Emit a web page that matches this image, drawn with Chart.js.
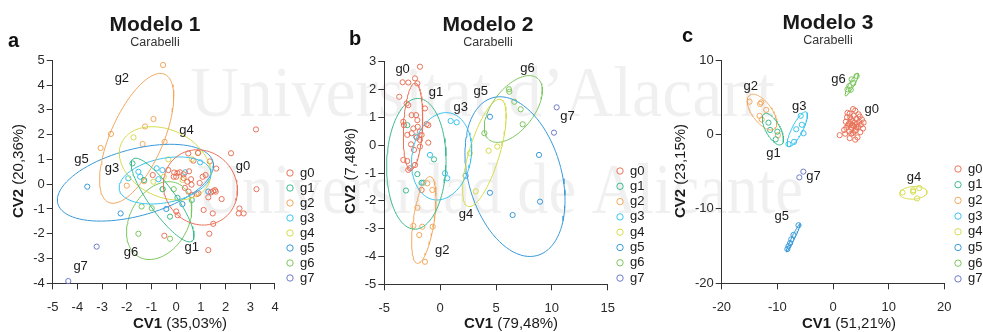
<!DOCTYPE html>
<html>
<head>
<meta charset="utf-8">
<script src="https://cdn.jsdelivr.net/npm/chart.js@4.4.1/dist/chart.umd.min.js"></script>
<style>
  body { margin: 0; background: #fff; }
  #wrap { position: relative; width: 983px; height: 332px; }
  canvas { position: absolute; left: 0; top: 0; }
</style>
</head>
<body>
<div id="wrap">
  <canvas id="c1" width="983" height="332"></canvas>
  <canvas id="c2" width="983" height="332"></canvas>
  <canvas id="c3" width="983" height="332"></canvas>
</div>
<script>
const groups = ['g0', 'g1', 'g2', 'g3', 'g4', 'g5', 'g6', 'g7'];
const colors = ['#E8735A', '#3DBB8C', '#F2A85E', '#3CC3EE', '#D6DB4C', '#3A9AD9', '#7CC65E', '#6F7BC9'];

// Modelo 1 (CV1 35,03% / CV2 20,36%)
const m1_g0 = [[3.23,2.21],[2.22,1.25],[3.25,-0.2],[2.56,-0.98],[2.53,-1.18],[2.73,-1.18],[1.48,-1.18],[1.34,-2.0],
  [1.3,-2.66],[1.84,-0.6],[1.62,0.63],[1.36,0.92],[0.88,1.26],[0.49,1.24],[1.5,-1.6],[1.07,0.3],[1.19,0.37],
  [1.57,-0.24],[1.5,-0.28],[1.41,-0.33],[1.3,-0.53],[0.9,-0.37],[0.83,-0.4],[0.63,-0.44],[0.3,0.4],[0.3,0.25],
  [0.45,0.1],[0.52,0.52],[0.6,0.2],[0.62,-0.02],[0.15,0.48],[-0.1,0.3],[0.0,0.3],[0.05,0.45],[-0.08,0.47],
  [1.11,-1.04],[-0.32,0.57],[-0.95,0.37],[0.0,-1.1],[0.06,-1.25],[-0.48,-2.08],[0.5,-0.3],[0.7,0.95],[0.95,0.05],
  [1.6,-0.3],[0.35,-0.15]];
const m1_g1 = [[-1.77,0.84],[-1.3,0.17],[-0.25,-1.31],[0.63,-0.64],[-0.55,-0.2],[0.05,-0.55]];
const m1_g2 = [[-0.53,4.81],[-0.92,2.63],[-1.26,2.33],[-2.64,2.03],[-3.06,1.46],[-1.36,1.62],[-0.47,1.71],[-2.0,-0.06],[-1.3,0.12]];
const m1_g3 = [[-1.53,0.5],[-1.46,0.3],[-1.94,0.24],[-0.79,0.64],[-0.56,0.57],[-0.72,0.2],[0.36,0.48],[0.97,0.88]];
const m1_g4 = [[-1.73,1.89],[0.63,1.0],[0.9,1.27],[0.26,0.17],[-0.32,1.0],[-0.92,0.1],[-0.5,0.3]];
const m1_g5 = [[-3.6,-0.1],[-2.25,-1.18],[-0.4,-1.0],[1.3,-0.3],[0.25,-0.8]];
const m1_g6 = [[-1.4,-0.9],[-0.99,-0.97],[-1.53,-2.0],[-0.25,-2.2],[-0.55,-0.2],[-0.1,-0.2]];
const m1_g7 = [[-3.22,-2.52],[-4.37,-3.91]];
// ellipse: centre x, centre y, half width, half height, y-offset of rightmost point (fraction of half height)
const m1_ellipses = [[0.98,-0.13,1.5,1.52,-0.08],[-0.55,-0.64,1.27,1.69,-0.86],[-1.6,1.85,1.5,2.62,0.64],
  [-0.45,0.15,1.86,0.95,0.3],[-0.45,0.84,1.85,1.48,-0.28],[-1.65,0.06,3.16,1.55,0.45],[-0.69,-1.47,1.32,1.57,0.3],null];
const m1_labels = [[2.7,0.71],[0.63,-2.55],[-2.2,4.27],[-2.6,0.64],[0.42,2.19],[-3.83,1.0],[-1.83,-2.77],[-3.87,-3.3]];

// Modelo 2 (CV1 79,48% / CV2 7,48%)
const m2_g0 = [[-1.81,2.82],[-2.25,2.4],[-3.36,2.26],[-2.85,2.25],[-2.04,2.22],[-3.66,1.74],[-3.0,1.5],[-2.85,1.44],
  [-1.36,1.32],[-2.55,1.08],[-2.16,1.08],[-2.04,0.9],[-3.3,0.84],[-3.24,0.72],[-1.21,0.76],[-1.06,0.72],[-2.01,0.66],
  [-2.4,0.6],[-1.81,0.49],[-2.55,0.43],[-2.94,0.37],[-1.66,0.37],[-2.1,0.27],[-1.81,0.19],[-1.06,0.09],[-2.61,0.03],
  [-1.81,-0.05],[-2.34,-0.17],[-3.3,-0.53],[-2.94,-0.57],[-2.25,-0.71],[-2.7,-0.83],[-2.85,-0.89],[-1.66,-1.61]];
const m2_g1 = [[-2.94,0.72],[-0.55,-0.51],[-2.04,-1.04],[-3.06,-1.63],[-1.66,-1.35]];
const m2_g2 = [[-1.15,-1.37],[-0.7,-1.61],[-2.04,-2.25],[-2.4,-2.9],[-1.6,-2.93],[-0.67,-2.93],[-1.87,-3.23],[-1.36,-4.19]];
const m2_g3 = [[-2.16,0.31],[-0.91,-0.35],[0.43,-1.01],[0.64,-1.19],[0.94,0.87],[1.48,0.82],[-1.5,-1.35]];
const m2_g4 = [[2.67,-0.29],[4.34,-0.2],[5.12,-0.05],[3.18,-1.66]];
const m2_g5 = [[4.46,1.02],[4.46,-1.71],[8.85,-0.35],[8.94,-2.03],[6.49,-2.51],[2.28,-1.1]];
const m2_g6 = [[6.16,2.01],[6.19,1.92],[6.64,1.56],[7.21,1.29],[7.39,0.75],[3.96,0.43]];
const m2_g7 = [[10.43,1.36],[10.19,0.45]];
const m2_ellipses = [[-2.43,0.67,0.87,1.56,0.2],[-2.13,-0.67,2.66,2.35,0.05],[-1.46,-2.69,1.09,1.56,0.5],
  [0.13,-0.4,2.69,1.57,0.15],[3.96,-0.28,1.95,1.93,0.69],[6.7,-1.13,4.48,2.87,-0.3],[6.55,1.3,2.6,1.2,0.55],null];
const m2_labels = [[-3.36,2.72],[-0.37,1.89],[0.19,-3.79],[1.84,1.36],[2.31,-2.49],[3.63,1.92],[7.81,2.76],[11.39,1.02]];

// Modelo 3 (CV1 51,21% / CV2 23,15%)
const m3_g0 = [[1.2,-0.1],[2.0,0.6],[2.3,1.7],[2.5,2.3],[2.7,1.2],[2.9,0.4],[3.0,2.8],[3.1,1.5],[3.2,2.0],[3.3,0.9],
  [3.4,1.3],[3.5,1.8],[3.6,0.2],[3.7,2.5],[3.8,1.1],[3.9,1.6],[4.0,3.2],[4.1,0.6],[4.2,2.1],[4.3,1.4],[4.4,-0.4],
  [4.5,1.0],[4.6,2.7],[4.7,1.7],[4.9,0.3],[5.0,1.3],[5.2,2.0],[5.4,0.8],[5.5,1.6],[3.0,-0.5],[2.2,0.1],[3.6,3.4],
  [2.6,2.9],[4.0,-0.7],[3.3,0.1],[4.8,2.4],[2.8,1.4],[3.9,0.4],[3.5,1.2],[4.2,1.0],[3.1,2.3],[2.4,0.9]];
const m3_g1 = [[-11.6,1.58],[-11.3,0.6],[-10.0,0.37],[-10.3,-0.66]];
const m3_g2 = [[-15.0,4.4],[-13.1,4.1],[-12.9,4.3],[-12.0,3.3],[-13.2,2.5],[-12.8,2.0],[-9.9,-0.1]];
const m3_g3 = [[-5.8,2.5],[-5.6,1.3],[-6.6,0.7],[-5.3,0.15],[-7.0,-1.0],[-8.0,-1.3]];
const m3_g4 = [[12.5,-7.8],[14.4,-7.5],[14.4,-7.7],[15.5,-7.2],[15.1,-8.6]];
const m3_g5 = [[-6.2,-12.2],[-7.1,-13.5],[-7.5,-14.1],[-7.7,-14.6],[-8.0,-15.0],[-8.2,-15.4]];
const m3_g6 = [[3.35,7.4],[3.65,6.9],[2.93,6.5],[2.6,6.06],[3.2,6.0],[4.25,7.85]];
const m3_g7 = [[-5.33,-5.0],[-6.05,-5.77]];
const m3_ellipses = [null,[-10.8,0.71,1.9,2.13,-0.66],[-12.75,3.0,2.65,2.4,-0.62],[-6.4,0.7,1.8,2.35,0.8],
  [14.45,-7.85,2.45,0.85,0.1],[-7.15,-13.9,1.25,1.9,0.97],[3.35,6.7,1.2,1.53,0.9],null];
const m3_labels = [[6.95,3.3],[-10.7,-2.6],[-14.8,6.4],[-6.05,3.8],[14.55,-5.8],[-9.2,-11.0],[1.0,7.45],[-3.5,-5.7]];

const F = "'Liberation Sans', Arial, sans-serif";

const panels = [
  { id: 'c1', pts: [m1_g0, m1_g1, m1_g2, m1_g3, m1_g4, m1_g5, m1_g6, m1_g7], ell: m1_ellipses, lab: m1_labels,
    x: [-5, 4, 1], y: [-4, 5, 1], box: [52.7, 60.3, 275, 283.3],
    title: 'Modelo 1', letter: 'a', xt: ['CV1', ' (35,03%)'], yt: ['CV2', ' (20,36%)'],
    tx: 155, tb: 31, sb: 46, lx: 8, lb: 47, xtx: 180, ytx: 18, legX: 290, legY: 173, legS: 15 },
  { id: 'c2', pts: [m2_g0, m2_g1, m2_g2, m2_g3, m2_g4, m2_g5, m2_g6, m2_g7], ell: m2_ellipses, lab: m2_labels,
    x: [-5, 15, 5], y: [-5, 3, 1], box: [384.3, 61.7, 607.7, 284.3],
    title: 'Modelo 2', letter: 'b', xt: ['CV1', ' (79,48%)'], yt: ['CV2', ' (7,48%)'],
    tx: 488, tb: 31, sb: 46, lx: 349, lb: 45, xtx: 511, ytx: 350, legX: 620, legY: 171, legS: 15.3 },
  { id: 'c3', pts: [m3_g0, m3_g1, m3_g2, m3_g3, m3_g4, m3_g5, m3_g6, m3_g7], ell: m3_ellipses, lab: m3_labels,
    x: [-20, 20, 10], y: [-20, 10, 10], box: [721.7, 60, 944.3, 283.3],
    title: 'Modelo 3', letter: 'c', xt: ['CV1', ' (51,21%)'], yt: ['CV2', ' (23,15%)'],
    tx: 828, tb: 29, sb: 44, lx: 682, lb: 42, xtx: 849, ytx: 680, legX: 958, legY: 169, legS: 15.7 }
];

function ellipsePoints(e) {
  const [cx, cy, rx, ry, r] = e;
  const s = Math.sqrt(1 - r * r);
  const out = [];
  for (let i = 0; i <= 90; i++) {
    const t = i / 90 * Math.PI * 2;
    out.push({ x: cx + rx * Math.cos(t), y: cy + ry * (r * Math.cos(t) - s * Math.sin(t)) });
  }
  return out;
}

function mixedText(ctx, x, y, bold, normal, rotate) {
  ctx.save();
  ctx.translate(x, y);
  if (rotate) ctx.rotate(-Math.PI / 2);
  ctx.font = 'bold 15px ' + F;
  const wb = ctx.measureText(bold).width;
  ctx.font = '15px ' + F;
  const wn = ctx.measureText(normal).width;
  const x0 = -(wb + wn) / 2;
  ctx.fillStyle = '#1a1a1a';
  ctx.textAlign = 'left';
  ctx.textBaseline = 'alphabetic';
  ctx.font = 'bold 15px ' + F;
  ctx.fillText(bold, x0, 5);
  ctx.font = '15px ' + F;
  ctx.fillText(normal, x0 + wb, 5);
  ctx.restore();
}

const watermark = {
  id: 'watermark',
  beforeDraw(chart) {
    const ctx = chart.ctx;
    ctx.save();
    ctx.fillStyle = 'rgba(0,0,0,0.06)';
    ctx.font = "72px 'Liberation Serif', 'DejaVu Serif', serif";
    ctx.textBaseline = 'alphabetic';
    [['Universitat d\u2019Alacant', 190, 116, 585], ['Universidad de Alicante', 197, 213, 606]].forEach(([t, x, y, w]) => {
      const k = w / ctx.measureText(t).width;
      ctx.save();
      ctx.translate(x, y);
      ctx.scale(k, 1);
      ctx.fillText(t, 0, 0);
      ctx.restore();
    });
    ctx.restore();
  }
};

const decorations = {
  id: 'decorations',
  afterDraw(chart) {
    const p = chart.options.plugins.decorations.panel;
    const ctx = chart.ctx;
    const xs = chart.scales.x, ys = chart.scales.y;
    ctx.save();
    ctx.fillStyle = '#1a1a1a';
    // group labels inside the plot
    ctx.font = '13px ' + F;
    ctx.textAlign = 'center';
    ctx.textBaseline = 'middle';
    p.lab.forEach((l, i) => ctx.fillText(groups[i], xs.getPixelForValue(l[0]), ys.getPixelForValue(l[1])));
    // titles
    ctx.textBaseline = 'alphabetic';
    ctx.font = 'bold 21px ' + F;
    ctx.fillText(p.title, p.tx, p.tb);
    ctx.font = '12.5px ' + F;
    ctx.fillStyle = '#333';
    ctx.fillText('Carabelli', p.tx, p.sb);
    ctx.fillStyle = '#111';
    ctx.textAlign = 'left';
    ctx.font = 'bold 20px ' + F;
    ctx.fillText(p.letter, p.lx, p.lb);
    // legend
    ctx.font = '13px ' + F;
    ctx.textBaseline = 'middle';
    groups.forEach((g, i) => {
      const y = p.legY + i * p.legS;
      ctx.strokeStyle = colors[i];
      ctx.lineWidth = 1;
      ctx.beginPath();
      ctx.arc(p.legX, y, 3.2, 0, Math.PI * 2);
      ctx.stroke();
      ctx.fillStyle = '#1a1a1a';
      ctx.fillText(g, p.legX + 10, y);
    });
    ctx.restore();
    mixedText(ctx, p.xtx, 323, p.xt[0], p.xt[1], false);
    mixedText(ctx, p.ytx, 171, p.yt[0], p.yt[1], true);
  }
};

function axis(range, fit) {
  return {
    type: 'linear', min: range[0], max: range[1],
    ticks: { stepSize: range[2], color: '#2a2a2a', font: { family: F, size: 13 }, padding: fit.pad },
    grid: { display: true, drawOnChartArea: false, drawTicks: true, tickLength: 6, color: '#333', lineWidth: 1 },
    border: { display: true, color: '#333', width: 1 },
    afterFit: fit.f
  };
}

panels.forEach((p, idx) => {
  const datasets = [];
  p.ell.forEach((e, i) => {
    if (!e) return;
    datasets.push({ label: groups[i] + ' elipse', data: ellipsePoints(e), showLine: true, borderColor: colors[i],
      borderWidth: 1, pointRadius: 0, fill: false, tension: 0 });
  });
  p.pts.forEach((arr, i) => {
    datasets.push({ label: groups[i], data: arr.map(v => ({ x: v[0], y: v[1] })), showLine: false,
      borderColor: colors[i], backgroundColor: 'rgba(0,0,0,0)', borderWidth: 1, pointRadius: 2.6 });
  });
  const [L, T, R, B] = p.box;
  new Chart(document.getElementById(p.id), {
    type: 'scatter',
    data: { datasets },
    options: {
      responsive: false, animation: false, devicePixelRatio: 1,
      layout: { padding: { left: L - 30, top: T, right: 983 - R, bottom: 332 - B - 40 } },
      scales: {
        x: axis(p.x, { pad: 10, f: s => { s.height = 40; } }),
        y: axis(p.y, { pad: 2, f: s => { s.width = 30; } })
      },
      plugins: { legend: { display: false }, tooltip: { enabled: false }, decorations: { panel: p } },
      clip: false
    },
    plugins: idx === 0 ? [watermark, decorations] : [decorations]
  });
});
</script>
</body>
</html>
